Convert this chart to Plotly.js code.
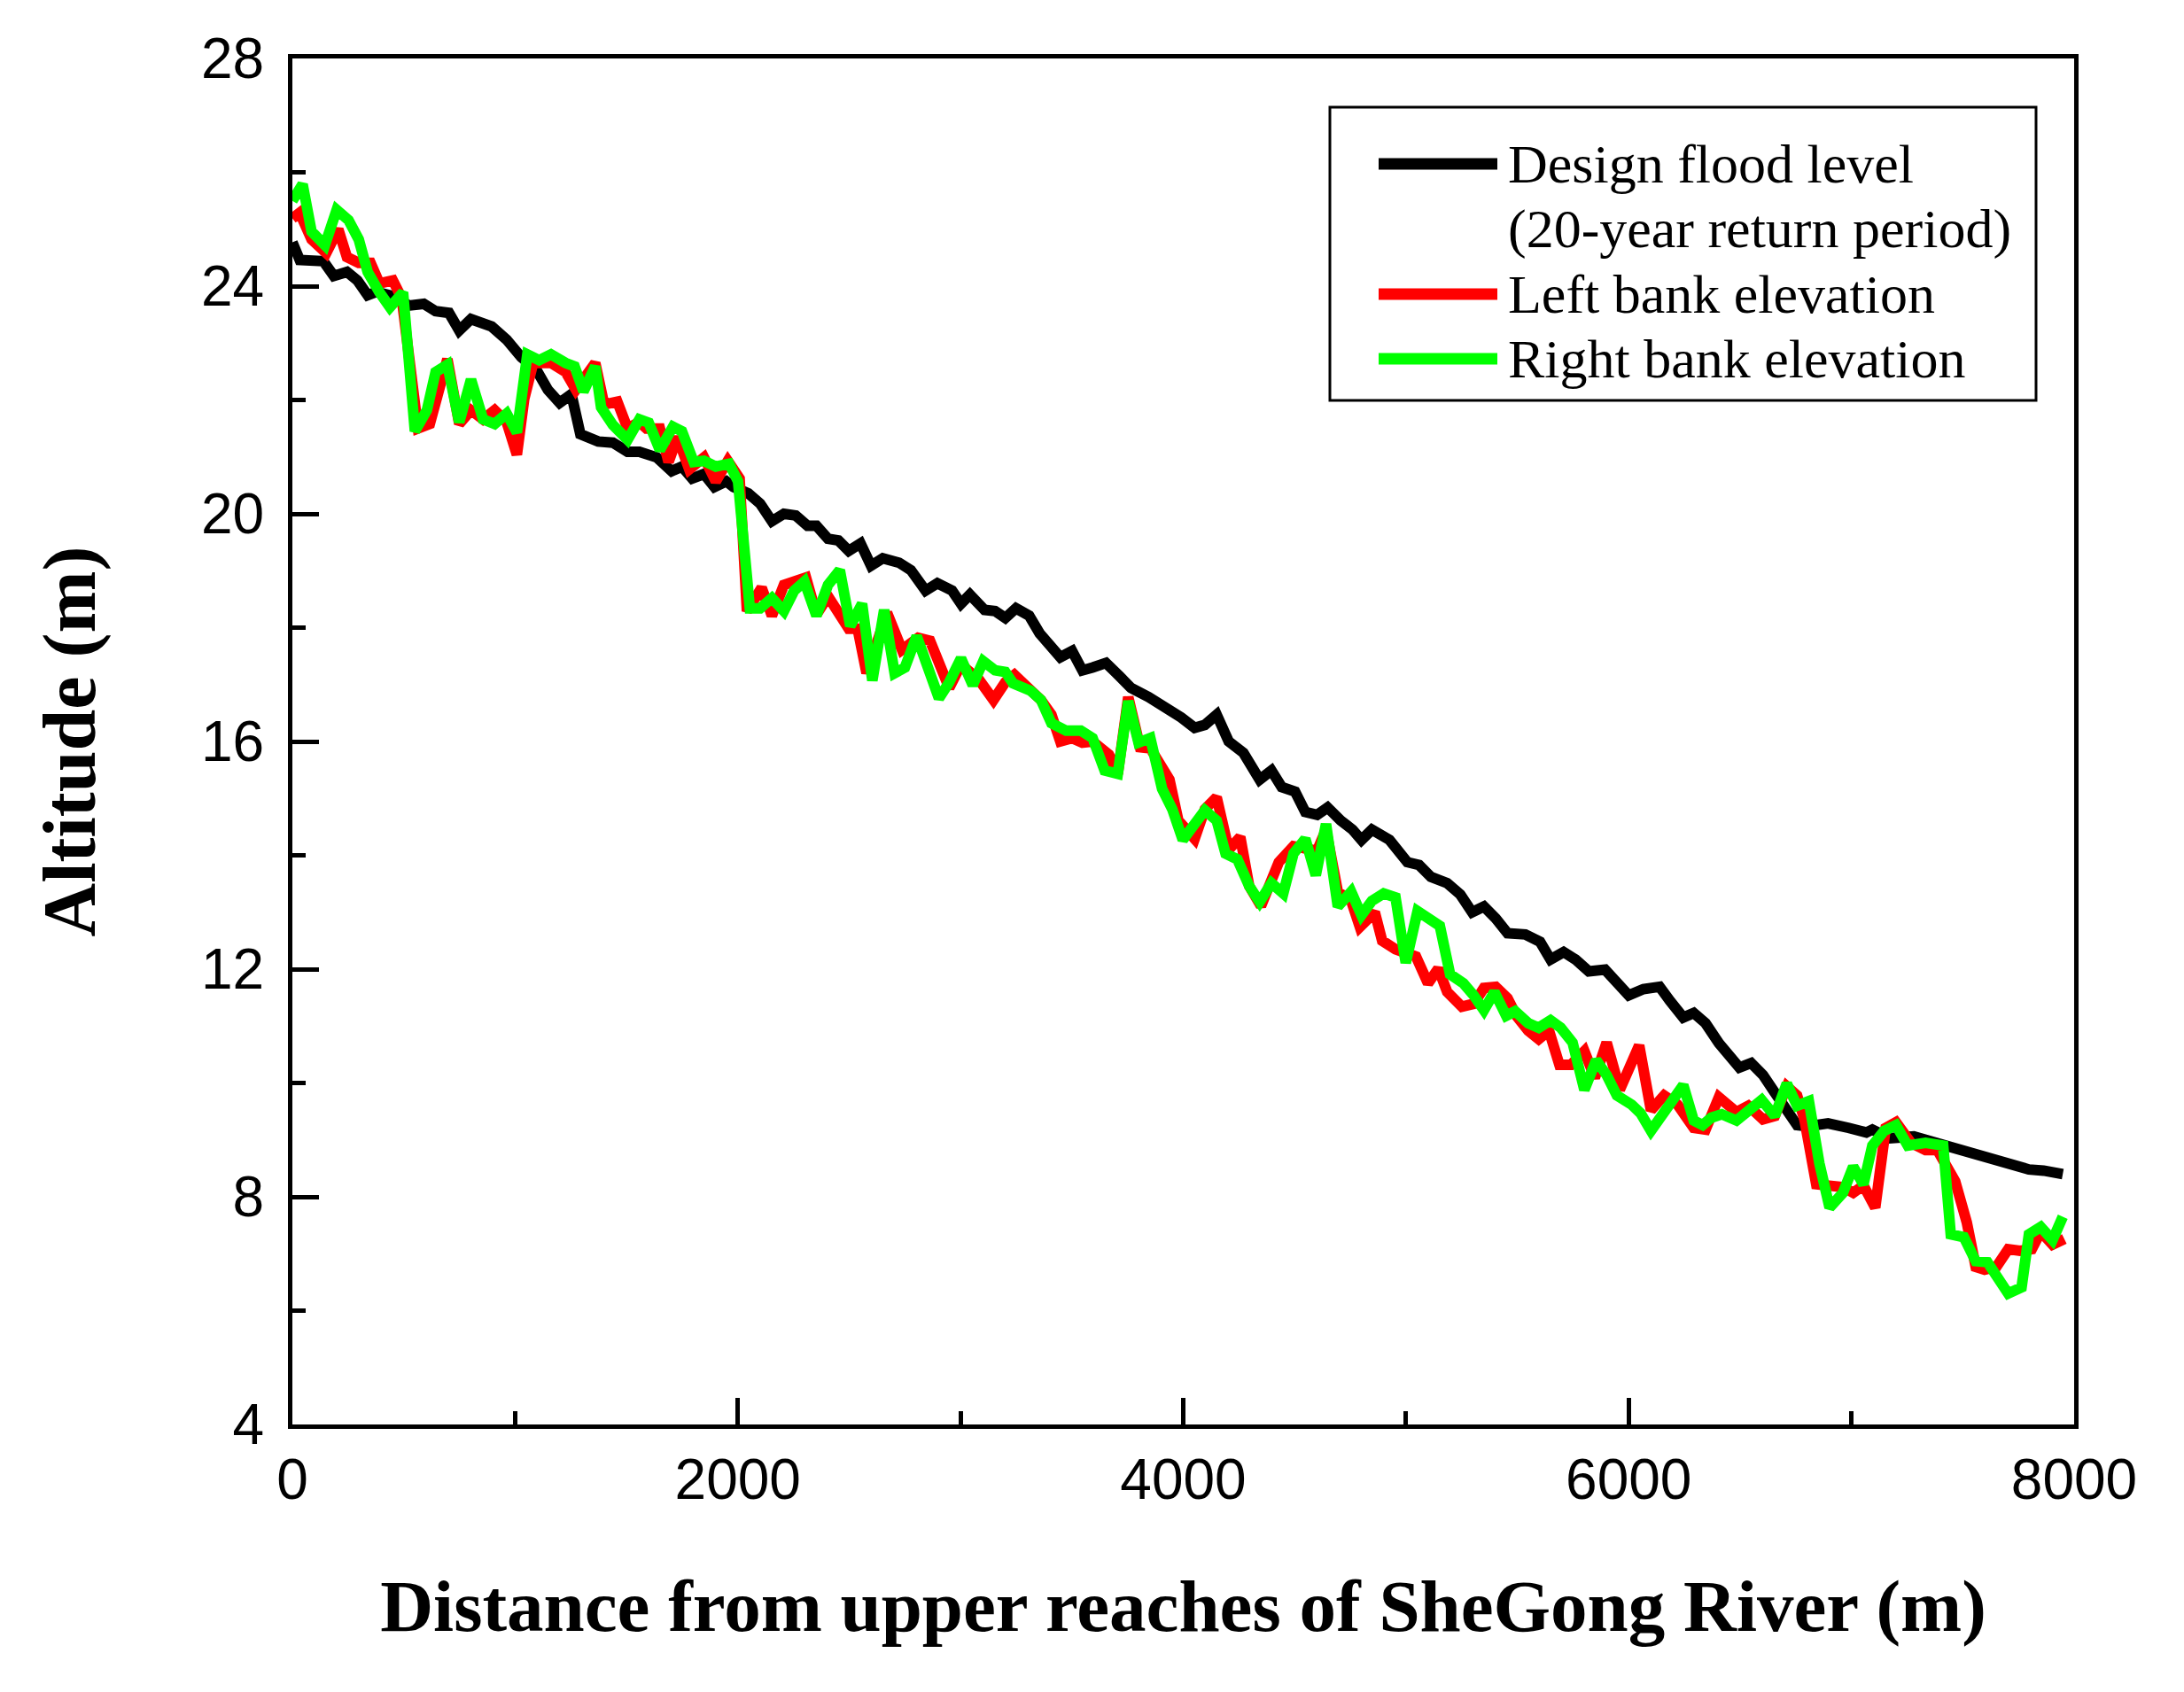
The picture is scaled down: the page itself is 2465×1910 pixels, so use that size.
<!DOCTYPE html>
<html>
<head>
<meta charset="utf-8">
<script src="https://cdn.plot.ly/plotly-3.0.1.min.js"></script>
<style>html,body{margin:0;padding:0;background:#fff;}#chart{width:2465px;height:1910px;}</style>
</head>
<body>
<div id="chart"></div>
<script>
// ---- Data ----
const floodX = [0,33,139,186,245,292,338,378,438,524,590,643,703,749,802,895,962,1028,1094,1147,1200,1253,1293,1373,1439,1505,1558,1636,1703,1749,1795,1848,1895,1948,1981,2047,2100,2153,2207,2260,2313,2353,2405,2452,2498,2551,2598,2651,2724,2777,2843,2896,2962,3002,3042,3108,3155,3201,3249,3308,3355,3408,3448,3501,3547,3593,3653,3713,3766,3845,3925,3991,4051,4097,4150,4204,4270,4343,4396,4442,4502,4548,4601,4648,4707,4760,4800,4847,4926,4966,5006,5059,5112,5185,5244,5297,5350,5403,5456,5536,5602,5649,5708,5761,5821,5894,5947,6000,6066,6139,6186,6245,6292,6345,6405,6497,6550,6603,6656,6710,6756,6802,6895,6988,7067,7094,7174,7280,7412,7545,7677,7797,7863,7949];
const floodY = [24.77,24.46,24.44,24.18,24.25,24.10,23.84,23.90,23.84,23.66,23.69,23.56,23.53,23.22,23.42,23.29,23.06,22.75,22.54,22.18,21.95,22.10,21.40,21.27,21.25,21.09,21.09,20.99,20.75,20.83,20.62,20.70,20.47,20.57,20.47,20.36,20.18,19.87,20.00,19.97,19.79,19.79,19.56,19.53,19.35,19.48,19.09,19.22,19.14,19.01,18.65,18.78,18.65,18.42,18.58,18.31,18.29,18.17,18.34,18.21,17.90,17.69,17.48,17.59,17.25,17.30,17.38,17.15,16.94,16.78,16.60,16.42,16.24,16.29,16.47,16.00,15.80,15.33,15.49,15.20,15.12,14.76,14.71,14.84,14.61,14.45,14.27,14.45,14.27,14.09,13.88,13.83,13.62,13.51,13.31,13.00,13.10,12.89,12.63,12.61,12.48,12.17,12.30,12.17,11.96,11.99,11.78,11.54,11.65,11.69,11.44,11.15,11.23,11.05,10.70,10.27,10.35,10.14,9.83,9.52,9.26,9.24,9.29,9.21,9.13,9.18,9.03,9.06,8.92,8.79,8.64,8.48,8.46,8.40];

const leftX = [0,33,86,152,206,245,298,351,391,451,491,537,564,617,696,749,802,856,908,962,1008,1041,1081,1161,1227,1273,1360,1400,1459,1505,1558,1590,1650,1689,1729,1782,1848,1901,1955,2008,2041,2107,2153,2207,2306,2353,2405,2498,2538,2578,2670,2737,2810,2863,2949,3002,3082,3148,3201,3242,3315,3361,3408,3448,3501,3547,3593,3666,3706,3753,3806,3852,3938,3978,4051,4097,4150,4204,4256,4296,4349,4429,4495,4601,4641,4694,4754,4793,4860,4893,4953,5045,5099,5145,5185,5251,5304,5350,5403,5456,5496,5549,5596,5642,5689,5741,5801,5848,5901,5960,6047,6100,6159,6219,6292,6345,6405,6484,6537,6603,6656,6710,6756,6789,6842,6908,6962,7008,7054,7107,7154,7200,7267,7333,7386,7466,7518,7558,7598,7651,7704,7757,7810,7850,7903,7956];
const leftY = [25.19,25.29,24.82,24.58,25.00,24.51,24.41,24.41,24.05,24.10,23.79,22.44,21.50,21.58,22.72,21.58,21.82,21.66,21.82,21.61,21.04,22.02,22.65,22.65,22.49,22.18,22.65,21.92,21.97,21.50,21.61,21.50,21.50,20.91,21.35,20.78,20.99,20.57,20.93,20.62,18.29,18.70,18.21,18.75,18.88,18.23,18.55,17.98,17.98,17.20,18.26,17.61,17.82,17.77,16.94,17.35,17.09,16.73,17.04,17.17,16.89,16.73,16.47,16.00,16.06,15.98,16.00,15.77,15.43,16.78,15.90,15.88,15.33,14.61,14.29,14.81,15.02,14.10,14.32,13.46,13.11,13.88,14.16,14.08,14.45,13.36,13.20,12.74,13.00,12.50,12.35,12.22,11.75,12.01,11.60,11.34,11.39,11.67,11.69,11.49,11.18,10.92,10.77,10.92,10.32,10.32,10.56,10.09,10.71,9.88,10.66,9.52,9.78,9.62,9.21,9.18,9.75,9.49,9.60,9.36,9.42,9.94,9.78,9.36,8.22,8.17,8.17,8.07,8.20,7.81,9.21,9.31,8.95,8.82,8.82,8.27,7.55,6.77,6.72,6.77,7.08,7.05,7.08,7.39,7.16,7.26];

const rightX = [0,46,86,146,199,252,298,338,391,438,497,550,604,643,696,749,802,856,908,962,1008,1055,1108,1161,1227,1267,1307,1360,1386,1439,1505,1558,1600,1650,1709,1749,1802,1848,1901,1961,2001,2034,2054,2100,2153,2207,2253,2299,2353,2405,2458,2505,2558,2604,2657,2704,2750,2803,2850,2903,2949,3002,3055,3102,3155,3201,3236,3315,3361,3408,3474,3540,3593,3647,3706,3753,3799,3852,3905,3951,3998,4044,4097,4150,4190,4243,4296,4343,4396,4449,4495,4548,4595,4641,4694,4754,4800,4847,4900,4953,4999,5052,5112,5152,5198,5258,5304,5350,5397,5450,5490,5549,5596,5649,5695,5748,5801,5854,5901,5947,6013,6053,6100,6159,6199,6245,6292,6332,6371,6418,6484,6537,6597,6656,6710,6756,6809,6856,6902,6962,7008,7054,7094,7147,7200,7253,7333,7412,7446,7505,7558,7611,7704,7764,7797,7850,7903,7949];
const rightY = [25.50,25.79,24.96,24.72,25.34,25.16,24.82,24.25,23.89,23.63,23.89,21.45,21.82,22.49,22.62,21.61,22.36,21.66,21.58,21.76,21.43,22.80,22.70,22.80,22.65,22.59,22.15,22.59,21.87,21.56,21.30,21.66,21.60,21.12,21.53,21.45,20.91,20.93,20.83,20.88,20.57,18.96,18.34,18.34,18.52,18.29,18.65,18.81,18.21,18.75,19.01,18.03,18.42,17.07,18.31,17.20,17.30,17.85,17.35,16.76,17.04,17.46,16.99,17.41,17.25,17.22,17.02,16.89,16.73,16.32,16.19,16.19,16.06,15.49,15.43,16.71,15.98,16.06,15.17,14.81,14.27,14.50,14.79,14.61,14.03,13.93,13.46,13.18,13.51,13.33,14.03,14.29,13.65,14.55,13.10,13.36,12.95,13.20,13.33,13.26,12.11,13.02,12.84,12.76,11.91,11.75,11.54,11.28,11.60,11.18,11.26,11.05,10.97,11.10,10.97,10.71,9.88,10.40,10.14,9.78,9.62,9.47,9.16,9.47,9.73,9.96,9.34,9.26,9.39,9.45,9.34,9.49,9.70,9.42,9.99,9.60,9.68,8.59,7.81,8.07,8.53,8.22,8.90,9.16,9.26,8.90,8.95,8.90,7.34,7.29,6.87,6.85,6.30,6.41,7.34,7.47,7.24,7.65];

const seriesNames = ['Design flood level', '(20-year return period)', 'Left bank elevation', 'Right bank elevation'];
const xTickVals = [0, 2000, 4000, 6000, 8000];
const yTickVals = [4, 8, 12, 16, 20, 24, 28];

// ---- Chart ----
const W = 2465, H = 1910;
const M = {l: 330, r: 124, t: 66, b: 302};
const PW = W - M.l - M.r, PH = H - M.t - M.b;
const px = v => (v - M.l) / PW;        // pixel -> paper x (legend box only)
const py = v => (M.t + PH - v) / PH;   // pixel -> paper y

const lineW = 12;
const traces = [
  {x: floodX, y: floodY, mode: 'lines', name: seriesNames[0], line: {color: '#000000', width: lineW}, showlegend: false},
  {x: leftX, y: leftY, mode: 'lines', name: seriesNames[2], line: {color: '#ff0000', width: lineW}, showlegend: false},
  {x: rightX, y: rightY, mode: 'lines', name: seriesNames[3], line: {color: '#00ff00', width: lineW}, showlegend: false}
];

const serif = '"Liberation Serif", "Times New Roman", serif';
const sans = '"Liberation Sans", Arial, sans-serif';

const legColors = ['#000000', null, '#ff0000', '#00ff00'];
const legRowY = [185, 258, 332, 405];
const shapes = [{
  type: 'rect', xref: 'paper', yref: 'paper',
  x0: px(1501), x1: px(2298), y0: py(452), y1: py(121),
  line: {color: '#000', width: 3}, fillcolor: 'rgba(0,0,0,0)'
}];
const annotations = [];
seriesNames.forEach((nm, i) => {
  if (legColors[i]) {
    shapes.push({type: 'line', xref: 'paper', yref: 'paper',
      x0: px(1556), x1: px(1690), y0: py(legRowY[i]), y1: py(legRowY[i]),
      line: {color: legColors[i], width: 13}});
  }
  annotations.push({xref: 'paper', yref: 'paper', x: px(1700), y: py(legRowY[i]),
    xanchor: 'left', yanchor: 'middle', showarrow: false, text: nm,
    font: {family: serif, size: 62, color: '#000'}});
});

const axisCommon = {
  showgrid: false, zeroline: false, showline: true, linecolor: '#000', linewidth: 5,
  mirror: true, ticks: 'inside', ticklen: 30, tickwidth: 5, tickcolor: '#000',
  tickfont: {family: sans, size: 64, color: '#000'}
};

const layout = {
  width: W, height: H, margin: M,
  paper_bgcolor: '#fff', plot_bgcolor: '#fff', showlegend: false,
  xaxis: Object.assign({}, axisCommon, {
    range: [0, 8000], tickmode: 'array', tickvals: xTickVals, ticktext: xTickVals.map(String),
    ticklabelstandoff: 2,
    minor: {dtick: 1000, tick0: 0, ticks: 'inside', ticklen: 15, tickwidth: 5, tickcolor: '#000', showgrid: false},
    title: {text: '<b>Distance from upper reaches of SheGong River (m)</b>', font: {family: serif, size: 83, color: '#000'}, standoff: 80}
  }),
  yaxis: Object.assign({}, axisCommon, {
    range: [4, 28], tickmode: 'array', tickvals: yTickVals, ticktext: yTickVals.map(String),
    ticklabelstandoff: 14,
    minor: {dtick: 2, tick0: 4, ticks: 'inside', ticklen: 15, tickwidth: 5, tickcolor: '#000', showgrid: false},
    title: {text: '<b>Altitude (m)</b>', font: {family: serif, size: 84, color: '#000'}, standoff: 93}
  }),
  shapes: shapes, annotations: annotations
};

Plotly.newPlot('chart', traces, layout, {staticPlot: true, displayModeBar: false});
</script>
</body>
</html>
